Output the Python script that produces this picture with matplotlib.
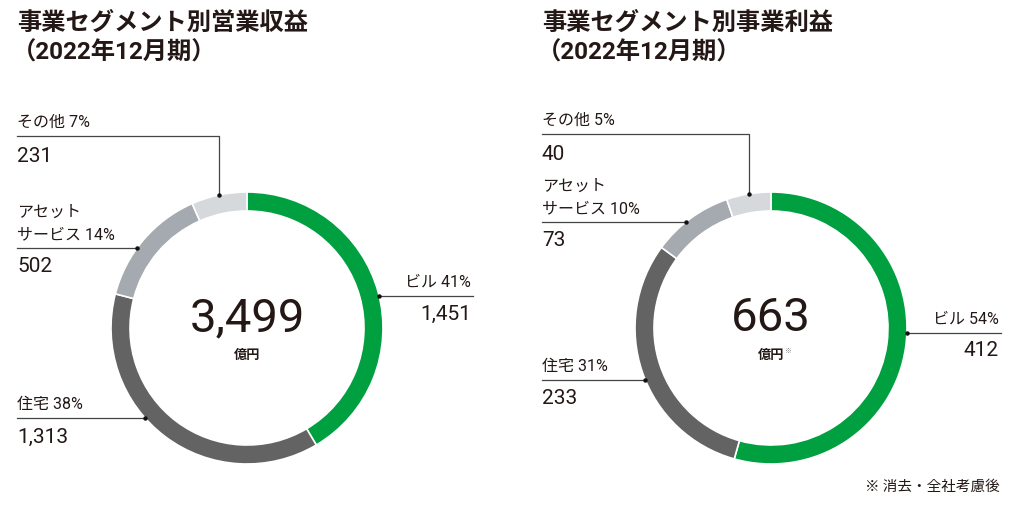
import numpy as np
import matplotlib
matplotlib.use("Agg")
import matplotlib.pyplot as plt

# データ
segments = ["ビル", "住宅", "アセット\nサービス", "その他"]
revenue = [1451, 1313, 502, 231]
revenue_pct = [41, 38, 14, 7]
revenue_total = "3,499"
profit = [412, 233, 73, 40]
profit_pct = [54, 31, 10, 5]
profit_total = "663"

colors = ["#00a040", "#636363", "#a4aaaf", "#d5d9dc"]
txt = "#231815"
JP = ["Noto Sans CJK JP", "DejaVu Sans"]
NUM = ["Roboto", "Noto Sans CJK JP"]

W, H = 1024, 516
fig = plt.figure(figsize=(W / 100, H / 100), dpi=100)
ax = fig.add_axes([0, 0, 1, 1])

R, RING = 136, 19


def Y(y):  # ピクセル座標(上から) -> データ座標
    return H - y


def ring_x(cx, cy, y, side):
    return cx + side * np.sqrt(R ** 2 - (Y(y) - Y(cy)) ** 2)


def donut(cx, cy, vals, pct, total, title, lab_x, ys, note=False):
    ax.pie(vals, center=(cx, Y(cy)), radius=R, startangle=90, counterclock=False,
           colors=colors, wedgeprops=dict(width=RING, edgecolor="white", linewidth=1.2))
    ax.text(lab_x, Y(23), title, family=JP, fontsize=17.5, fontweight="bold", color=txt, va="center")
    ax.text(lab_x - 5, Y(53), "（2022年12月期）", family=NUM, fontsize=17.5, fontweight="bold",
            color=txt, va="center")
    ax.text(cx, Y(318), total, family=NUM, fontsize=34, fontweight="normal", color=txt,
            ha="center", va="center")
    ax.text(cx, Y(355), "億円", family=JP, fontsize=9.5, fontweight="bold", color=txt,
            ha="center", va="center")
    if note:
        ax.text(cx + 13, Y(351), "※", family=JP, fontsize=5, color="#777777", va="center")

    # ビル（右側）
    ly = ys["bldg"]
    x0 = ring_x(cx, cy, ly, 1)
    rx = x0 + 94
    ax.plot([x0, rx], [Y(ly), Y(ly)], color="#444444", lw=0.9)
    ax.plot(x0, Y(ly), "o", color="#111111", ms=2.2)
    ax.text(rx - 2, Y(ly - 14), f"{segments[0]} {pct[0]}%", family=NUM, fontsize=11.5,
            color=txt, ha="right", va="center")
    ax.text(rx - 2, Y(ly + 18), f"{vals[0]:,}", family=NUM, fontsize=15, color=txt,
            ha="right", va="center")

    # 住宅・アセットサービス（左側）
    for i, key in [(1, "house"), (2, "asset")]:
        ly = ys[key]
        x1 = ring_x(cx, cy, ly, -1)
        ax.plot([lab_x, x1], [Y(ly), Y(ly)], color="#444444", lw=0.9)
        ax.plot(x1, Y(ly), "o", color="#111111", ms=2.2)
        lines = f"{segments[i]} {pct[i]}%".split("\n")
        for k, s in enumerate(reversed(lines)):
            ax.text(lab_x, Y(ly - 13 - 23 * k), s, family=NUM, fontsize=11.5, color=txt, va="center")
        ax.text(lab_x, Y(ly + 19), f"{vals[i]:,}", family=NUM, fontsize=15, color=txt, va="center")

    # その他（上側、縦の引き出し線）
    frac = 1 - vals[3] / sum(vals) / 2
    ang = np.deg2rad(90 - 360 * frac)
    vx = cx + R * np.cos(ang)
    vy = Y(cy) + R * np.sin(ang)
    ly = ys["other"]
    ax.plot([lab_x, vx, vx], [Y(ly), Y(ly), vy], color="#444444", lw=0.9)
    ax.plot(vx, vy, "o", color="#111111", ms=2.2)
    ax.text(lab_x, Y(ly - 14), f"{segments[3]} {pct[3]}%", family=NUM, fontsize=11.5,
            color=txt, va="center")
    ax.text(lab_x, Y(ly + 21), f"{vals[3]:,}", family=NUM, fontsize=15, color=txt, va="center")


donut(247, 328, revenue, revenue_pct, revenue_total, "事業セグメント別営業収益", 17,
      dict(bldg=296, house=418, asset=248, other=136))
donut(771, 328, profit, profit_pct, profit_total, "事業セグメント別事業利益", 542,
      dict(bldg=333, house=380, asset=222, other=134), note=True)

ax.text(1000, Y(487), "※ 消去・全社考慮後", family=JP, fontsize=10.5, color=txt, ha="right", va="center")

ax.set_xlim(0, W)
ax.set_ylim(0, H)
ax.set_aspect("auto")
ax.axis("off")

fig.savefig("out.png", dpi=100, facecolor="white")
